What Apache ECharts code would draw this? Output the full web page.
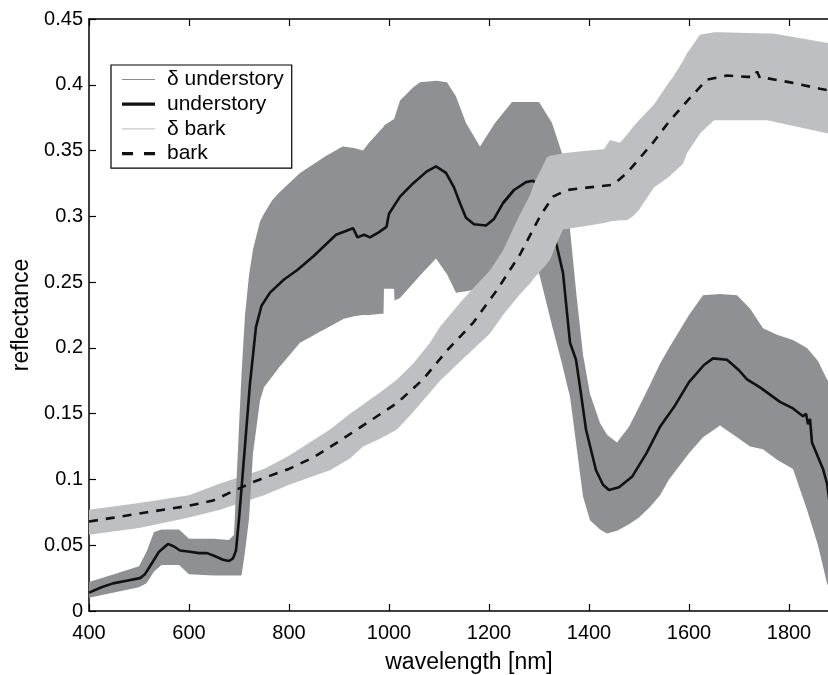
<!DOCTYPE html>
<html><head><meta charset="utf-8">
<script src="https://cdn.jsdelivr.net/npm/echarts/dist/echarts.min.js"></script>
<style>html,body{margin:0;padding:0;background:#fff}#c{width:828px;height:675px}</style>
</head><body><div id="c"></div>
<script>
// understory mean reflectance [wavelength nm, value]
const understoryMean = [
 [400,0.014],[425,0.018],[448,0.021],[475,0.023],[502,0.025],[512,0.028],[522,0.034],[540,0.045],[558,0.051],[570,0.049],
 [582,0.046],[602,0.045],[620,0.044],[636,0.044],[650,0.042],[668,0.039],[680,0.038],[688,0.040],[694,0.046],[700,0.070],
 [708,0.107],[715,0.140],[722,0.173],[734,0.216],[745,0.232],[762,0.242],[790,0.252],[816,0.259],[850,0.270],[894,0.286],
 [915,0.289],[928,0.291],[932,0.288],[937,0.284],[950,0.286],[962,0.284],[980,0.288],[995,0.292],[1000,0.302],[1022,0.315],
 [1048,0.325],[1075,0.334],[1094,0.338],[1114,0.333],[1130,0.322],[1142,0.310],[1154,0.299],[1170,0.294],[1194,0.293],[1210,0.298],
 [1228,0.310],[1250,0.320],[1274,0.326],[1288,0.327],[1300,0.324],[1318,0.305],[1334,0.280],[1348,0.257],[1362,0.204],[1374,0.191],
 [1384,0.165],[1394,0.138],[1414,0.107],[1428,0.096],[1440,0.092],[1460,0.094],[1486,0.102],[1515,0.120],[1542,0.140],[1570,0.155],
 [1600,0.174],[1630,0.187],[1648,0.192],[1676,0.191],[1700,0.183],[1716,0.176],[1742,0.170],[1782,0.159],[1808,0.154],[1828,0.148],
 [1834,0.150],[1838,0.142],[1842,0.146],[1846,0.128],[1858,0.117],[1868,0.108],[1876,0.097],[1882,0.080],[1890,0.070]
];
// understory uncertainty band [wavelength, upper, lower]
const understoryBand = [
 [400,0.022,0.010],[450,0.028,0.014],[500,0.034,0.018],[515,0.045,0.021],[530,0.060,0.030],[545,0.062,0.035],[580,0.062,0.035],
 [600,0.055,0.028],[650,0.055,0.027],[680,0.054,0.027],[690,0.058,0.027],[700,0.140,0.027],[705,0.180,0.027],[712,0.225,0.045],
 [720,0.255,0.070],[728,0.275,0.120],[742,0.296,0.160],[750,0.302,0.170],[766,0.312,0.178],[780,0.318,0.185],[822,0.333,0.204],
 [870,0.345,0.214],[908,0.353,0.222],[930,0.352,0.224],[948,0.350,0.225],[960,0.356,0.225],[984,0.366,0.226],[989,0.368,0.226],
 [990,0.369,0.245],[1010,0.374,0.245],[1011,0.375,0.236],[1022,0.388,0.238],[1048,0.398,0.249],[1062,0.402,0.255],[1094,0.403,0.268],
 [1116,0.402,0.256],[1134,0.391,0.242],[1154,0.371,0.243],[1182,0.353,0.245],[1212,0.371,0.248],[1246,0.387,0.250],[1300,0.387,0.257],
 [1326,0.371,0.217],[1346,0.348,0.188],[1356,0.320,0.172],[1362,0.290,0.163],[1375,0.240,0.125],[1388,0.195,0.087],[1402,0.165,0.069],
 [1422,0.143,0.062],[1436,0.134,0.059],[1456,0.128,0.061],[1480,0.140,0.066],[1500,0.155,0.071],[1522,0.172,0.079],[1542,0.188,0.088],
 [1560,0.200,0.100],[1600,0.225,0.120],[1628,0.240,0.132],[1662,0.241,0.141],[1696,0.240,0.132],[1722,0.230,0.125],[1748,0.215,0.123],
 [1776,0.210,0.115],[1808,0.206,0.108],[1836,0.200,0.077],[1858,0.190,0.050],[1876,0.176,0.021],[1890,0.170,0.010]
];
// bark mean reflectance [wavelength, value]
const barkMean = [
 [400,0.068],[450,0.071],[516,0.075],[600,0.080],[648,0.084],[682,0.090],[728,0.098],[742,0.100],[800,0.108],[850,0.117],
 [896,0.128],[956,0.143],[1016,0.158],[1068,0.176],[1116,0.198],[1168,0.219],[1216,0.244],[1262,0.271],[1302,0.300],[1328,0.315],
 [1356,0.320],[1400,0.322],[1448,0.324],[1476,0.333],[1528,0.356],[1560,0.372],[1602,0.390],[1636,0.404],[1676,0.407],[1716,0.406],
 [1730,0.406],[1736,0.410],[1742,0.405],[1756,0.405],[1800,0.402],[1862,0.397],[1890,0.395]
];
// bark uncertainty band [wavelength, upper, lower]
const barkBand = [
 [400,0.077,0.058],[500,0.082,0.063],[600,0.088,0.071],[662,0.097,0.077],[750,0.108,0.088],[800,0.118,0.096],[882,0.138,0.107],
 [922,0.150,0.116],[948,0.157,0.125],[982,0.166,0.131],[1016,0.176,0.138],[1048,0.188,0.151],[1082,0.204,0.166],[1102,0.216,0.175],
 [1146,0.236,0.191],[1202,0.259,0.211],[1228,0.274,0.225],[1260,0.300,0.240],[1282,0.316,0.249],[1290,0.325,0.253],[1316,0.345,0.264],
 [1322,0.346,0.267],[1336,0.347,0.280],[1348,0.348,0.290],[1400,0.350,0.293],[1430,0.351,0.295],[1442,0.358,0.296],[1462,0.356,0.297],
 [1476,0.362,0.297],[1488,0.368,0.300],[1500,0.373,0.305],[1530,0.385,0.322],[1560,0.402,0.330],[1568,0.406,0.333],[1588,0.418,0.340],
 [1596,0.424,0.348],[1622,0.438,0.363],[1650,0.440,0.373],[1662,0.440,0.373],[1756,0.439,0.373],[1768,0.439,0.372],[1890,0.431,0.362]
];
const xTicks = {min: 400, max: 1920, interval: 200};
const yTicks = {min: 0, max: 0.45, interval: 0.05};

const FONT = '"Liberation Sans", Arial, Helvetica, sans-serif';
const DARK = '#8f9094', LIGHT = '#bebfc3';

function splitAt(arr, x) {
  let i = arr.findIndex(p => p[0] >= x);
  return [arr.slice(0, i + 1), arr.slice(Math.max(0, i - 1))];
}
function band(name, rows, color, z) {
  return {
    type: 'custom', name: name, z: z, clip: true,
    data: rows,
    encode: {x: 0, y: [1, 2]},
    itemStyle: {color: color},
    renderItem: function (params, api) {
      if (params.dataIndex !== 0) return null;
      const pts = [];
      for (let i = 0; i < rows.length; i++) pts.push(api.coord([rows[i][0], rows[i][1]]));
      for (let i = rows.length - 1; i >= 0; i--) pts.push(api.coord([rows[i][0], rows[i][2]]));
      return {type: 'polygon', shape: {points: pts}, style: {fill: color, stroke: null}};
    }
  };
}
function line(name, data, z, dashed) {
  return {
    type: 'line', name: name, z: z, data: data, symbol: 'none', showSymbol: false,
    color: '#111', itemStyle: {color: '#111'},
    lineStyle: {color: '#111', width: 2.6, type: dashed ? [9, 8] : 'solid'},
    clip: true
  };
}
const [ubA, ubB] = splitAt(understoryBand, 900);
const [umA, umB] = splitAt(understoryMean, 1250);

const axisCommon = {
  axisLine: {show: true, lineStyle: {color: '#000', width: 1.5}},
  axisTick: {show: true, inside: true, length: 7, lineStyle: {color: '#000', width: 1.2}},
  splitLine: {show: false}
};

const chart = echarts.init(document.getElementById('c'), null, {renderer: 'canvas'});
chart.setOption({
  animation: false,
  backgroundColor: '#fff',
  grid: {left: 89, top: 19, width: 760, height: 592, outerBoundsMode: 'none', containLabel: false},
  legend: {
    left: 111, top: 65, orient: 'vertical',
    backgroundColor: '#fff', borderColor: '#000', borderWidth: 1.2, borderRadius: 0,
    padding: [4, 8, 4, 11], itemGap: 3.7, itemWidth: 33, itemHeight: 14,
    itemStyle: {borderWidth: 0},
    textStyle: {fontSize: 21, color: '#000', fontFamily: FONT, lineHeight: 21, padding: [0, 0, 0, 7]},
    selectedMode: false,
    data: [
      {name: 'δ understory', icon: 'path://M0,0H30V1H0Z', itemStyle: {color: '#8a8b8f'}},
      {name: 'understory', icon: 'path://M0,0H30V3H0Z', itemStyle: {color: '#111'}},
      {name: 'δ bark', icon: 'path://M0,0H30V1H0Z', itemStyle: {color: '#c8c9cc'}},
      {name: 'bark', icon: 'path://M0,0H10V3H0Z M20,0H30V3H20Z', itemStyle: {color: '#111'}}
    ]
  },
  xAxis: [
    Object.assign({type: 'value', position: 'bottom', min: xTicks.min, max: xTicks.max, interval: xTicks.interval,
      name: 'wavelength [nm]', nameLocation: 'middle', nameGap: 40,
      nameTextStyle: {fontSize: 23, color: '#000', fontFamily: FONT},
      axisLabel: {fontSize: 20, color: '#000', fontFamily: FONT, margin: 12, showMaxLabel: false,
        formatter: v => (v % 200 === 0 ? String(v) : '')}}, axisCommon),
    Object.assign({type: 'value', position: 'top', min: xTicks.min, max: xTicks.max, interval: xTicks.interval,
      axisLabel: {show: false}}, axisCommon)
  ],
  yAxis: [
    Object.assign({type: 'value', min: yTicks.min, max: yTicks.max, interval: yTicks.interval,
      name: 'reflectance', nameLocation: 'middle', nameGap: 52,
      nameTextStyle: {fontSize: 23, color: '#000', fontFamily: FONT},
      axisLabel: {fontSize: 20, color: '#000', fontFamily: FONT, margin: 6,
        formatter: v => String(Math.round(v * 100) / 100)}}, axisCommon)
  ],
  series: [
    band('δ understory', ubB, DARK, 1),
    line('understory', umB, 2, false),
    band('δ bark', barkBand, LIGHT, 3),
    band('δ understory', ubA, DARK, 4),
    line('understory', umA, 5, false),
    line('bark', barkMean, 6, true)
  ]
});
</script>
</body></html>
